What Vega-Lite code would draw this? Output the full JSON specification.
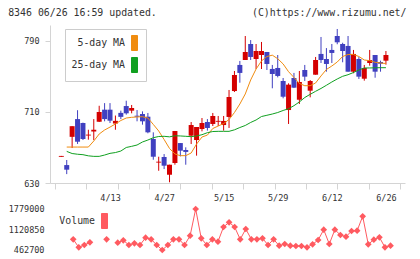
{
  "$schema": "https://vega.github.io/schema/vega-lite/v6.json",
  "background": "white",
  "padding": {"left": 8, "top": 8, "right": 2, "bottom": 0},
  "title": {
    "text": "8346 06/26 16:59 updated.\u00a0\u00a0\u00a0\u00a0\u00a0\u00a0\u00a0\u00a0\u00a0\u00a0\u00a0\u00a0\u00a0\u00a0\u00a0\u00a0(C)https://www.rizumu.net/",
    "anchor": "start",
    "font": "DejaVu Sans Mono",
    "fontSize": 9.9,
    "fontWeight": "normal",
    "color": "#333333",
    "offset": 7
  },
  "config": {
    "view": {"stroke": null},
    "axis": {"labelFont": "DejaVu Sans Mono", "labelFontSize": 8.5, "labelColor": "#333333", "grid": false, "labelFlush": false},
    "legend": {"labelFont": "DejaVu Sans Mono"}
  },
  "resolve": {"scale": {"color": "independent"}, "legend": {"color": "independent"}},
  "spacing": 2,
  "datasets": {
    "stock": [
      {"i":0,"open":659.5,"high":660.5,"low":659.5,"close":660.5,"ma5":null,"ma25":null,"vol":null},
      {"i":1,"open":650.2,"high":655.9,"low":640,"close":645,"ma5":670.5,"ma25":665.6,"vol":null},
      {"i":2,"open":682,"high":694,"low":669.4,"close":694,"ma5":670.5,"ma25":663.2,"vol":null},
      {"i":3,"open":702,"high":712,"low":674,"close":676.5,"ma5":670.5,"ma25":662.4,"vol":789300},
      {"i":4,"open":697.6,"high":698,"low":678.4,"close":679.6,"ma5":670.5,"ma25":661.9,"vol":528000},
      {"i":5,"open":683.5,"high":690,"low":678.8,"close":684.5,"ma5":670.5,"ma25":660.6,"vol":603100},
      {"i":6,"open":688,"high":702,"low":678.4,"close":690,"ma5":677.3,"ma25":660,"vol":691300},
      {"i":7,"open":699,"high":717,"low":698.7,"close":710,"ma5":685.2,"ma25":660,"vol":null},
      {"i":8,"open":712.6,"high":720,"low":699.5,"close":702,"ma5":689.7,"ma25":661.5,"vol":null},
      {"i":9,"open":712.6,"high":720,"low":697.6,"close":700.2,"ma5":693,"ma25":663.4,"vol":789300},
      {"i":10,"open":697,"high":706,"low":690,"close":700,"ma5":696.5,"ma25":664.3,"vol":null},
      {"i":11,"open":709,"high":711.5,"low":702,"close":704.5,"ma5":700.4,"ma25":666,"vol":678300},
      {"i":12,"open":716.7,"high":722.7,"low":707,"close":708.5,"ma5":703.2,"ma25":670,"vol":756600},
      {"i":13,"open":711.5,"high":717.9,"low":708.5,"close":714.5,"ma5":704,"ma25":671.3,"vol":603100},
      {"i":14,"open":705.8,"high":712.2,"low":699.5,"close":704.7,"ma5":704.4,"ma25":672.8,"vol":658700},
      {"i":15,"open":707.7,"high":710.7,"low":695.7,"close":699.5,"ma5":704.7,"ma25":676.2,"vol":603100},
      {"i":16,"open":704.7,"high":708.9,"low":686,"close":687.1,"ma5":703.2,"ma25":678.4,"vol":841600},
      {"i":17,"open":679.6,"high":687.1,"low":656.2,"close":659.6,"ma5":696,"ma25":681,"vol":789300},
      {"i":18,"open":653,"high":659.6,"low":643.8,"close":654,"ma5":688.6,"ma25":682.4,"vol":603100},
      {"i":19,"open":659.3,"high":662.6,"low":645.7,"close":649.5,"ma5":679,"ma25":682.6,"vol":440000},
      {"i":20,"open":639.3,"high":650.6,"low":630.8,"close":650.6,"ma5":668.9,"ma25":682,"vol":603100},
      {"i":21,"open":652.5,"high":688.6,"low":650.6,"close":688.6,"ma5":662.7,"ma25":683.2,"vol":789300},
      {"i":22,"open":675,"high":675,"low":660,"close":666.4,"ma5":660.8,"ma25":683,"vol":789300},
      {"i":23,"open":667.2,"high":670.2,"low":650.6,"close":665,"ma5":660.8,"ma25":682.6,"vol":603100},
      {"i":24,"open":683.3,"high":698.7,"low":673.9,"close":695.3,"ma5":663.8,"ma25":682.2,"vol":906900},
      {"i":25,"open":678.4,"high":693.1,"low":660.8,"close":693.1,"ma5":673.9,"ma25":683,"vol":1779000},
      {"i":26,"open":690.8,"high":703.2,"low":688.2,"close":697.6,"ma5":681.8,"ma25":684.4,"vol":822000},
      {"i":27,"open":698.7,"high":702,"low":689,"close":692,"ma5":684,"ma25":686.7,"vol":603100},
      {"i":28,"open":696.5,"high":708.9,"low":694.2,"close":705.5,"ma5":691.4,"ma25":688,"vol":789300},
      {"i":29,"open":699,"high":705.5,"low":694.2,"close":700,"ma5":694.2,"ma25":688.2,"vol":710900},
      {"i":30,"open":695.3,"high":705.5,"low":689,"close":699.9,"ma5":697,"ma25":688.2,"vol":1191000},
      {"i":31,"open":704.4,"high":734.8,"low":692,"close":726.9,"ma5":701.5,"ma25":688.2,"vol":1344500},
      {"i":32,"open":733.6,"high":756.2,"low":732.5,"close":751.7,"ma5":709.4,"ma25":689.9,"vol":1191000},
      {"i":33,"open":763,"high":767.5,"low":743,"close":754,"ma5":719,"ma25":692.5,"vol":789300},
      {"i":34,"open":768.6,"high":795.6,"low":768.6,"close":777.6,"ma5":730.3,"ma25":694.8,"vol":1125700},
      {"i":35,"open":786.6,"high":791,"low":768.6,"close":772,"ma5":746.1,"ma25":698.2,"vol":789300},
      {"i":36,"open":769.7,"high":786.6,"low":758.4,"close":778.7,"ma5":758.4,"ma25":701,"vol":789300},
      {"i":37,"open":774.2,"high":788.9,"low":758.4,"close":778.7,"ma5":767.5,"ma25":704.9,"vol":822000},
      {"i":38,"open":777.6,"high":777.6,"low":757.3,"close":764.1,"ma5":772.5,"ma25":706.3,"vol":603100},
      {"i":39,"open":758.5,"high":763,"low":736.7,"close":752.8,"ma5":774,"ma25":707.7,"vol":789300},
      {"i":40,"open":759.6,"high":774.2,"low":749,"close":750.6,"ma5":770,"ma25":709.4,"vol":580000},
      {"i":41,"open":744.9,"high":748.3,"low":725.4,"close":727.2,"ma5":764.1,"ma25":711.7,"vol":636000},
      {"i":42,"open":712.2,"high":742.3,"low":696.5,"close":740.8,"ma5":755.4,"ma25":713.7,"vol":580000},
      {"i":43,"open":748.3,"high":754,"low":737,"close":737.4,"ma5":748.9,"ma25":717.1,"vol":570500},
      {"i":44,"open":723.8,"high":756.2,"low":719,"close":743.8,"ma5":742.1,"ma25":721.3,"vol":570500},
      {"i":45,"open":757.3,"high":763,"low":745,"close":749.8,"ma5":739.6,"ma25":726.3,"vol":528000},
      {"i":46,"open":734,"high":746,"low":726.5,"close":744.9,"ma5":739.6,"ma25":729.9,"vol":626000},
      {"i":47,"open":752,"high":772,"low":752,"close":768.6,"ma5":742.7,"ma25":733.3,"vol":766400},
      {"i":48,"open":775.4,"high":794.5,"low":765.2,"close":768.6,"ma5":750.6,"ma25":736.5,"vol":1102800},
      {"i":49,"open":769.7,"high":782,"low":755.4,"close":764.1,"ma5":757.9,"ma25":740.1,"vol":635800},
      {"i":50,"open":779.9,"high":786.6,"low":765.2,"close":776.5,"ma5":761.8,"ma25":743.8,"vol":1102800},
      {"i":51,"open":795.6,"high":803.5,"low":786.3,"close":788.5,"ma5":766.3,"ma25":747.2,"vol":929700},
      {"i":52,"open":786.6,"high":788,"low":766,"close":778.7,"ma5":772.5,"ma25":750.2,"vol":874200},
      {"i":53,"open":784.4,"high":795.6,"low":755.4,"close":755.4,"ma5":774.8,"ma25":752,"vol":1060400},
      {"i":54,"open":755.4,"high":779.9,"low":753.6,"close":775.4,"ma5":774.8,"ma25":754.5,"vol":1070200},
      {"i":55,"open":769.7,"high":772,"low":747.2,"close":749.8,"ma5":772.5,"ma25":757.3,"vol":1540500},
      {"i":56,"open":747.5,"high":763,"low":745.3,"close":759.6,"ma5":768.6,"ma25":759.6,"vol":626000},
      {"i":57,"open":765.2,"high":779.9,"low":762.2,"close":768.6,"ma5":767.8,"ma25":759.6,"vol":776200},
      {"i":58,"open":774.2,"high":774.2,"low":748.6,"close":755.4,"ma5":766,"ma25":759.8,"vol":854600},
      {"i":59,"open":766.3,"high":767.8,"low":755.4,"close":764.4,"ma5":765.2,"ma25":759.9,"vol":528000},
      {"i":60,"open":767.8,"high":778.7,"low":763.3,"close":774.2,"ma5":764.6,"ma25":759.9,"vol":580000}
    ]
  },
  "vconcat": [
    {
      "width": 355,
      "height": 158,
      "data": {"name": "stock"},
      "resolve": {"axis": {"x": "independent"}},
      "layer": [
        {
          "mark": {"type": "rule", "strokeWidth": 1},
          "encoding": {
            "x": {"field": "i", "type": "quantitative",
              "scale": {"domain": [-1.1676, 62.6], "nice": false, "zero": false},
              "axis": {"orient": "bottom", "values": [-1.16, 4.6294, 10.4265, 16.2235, 22.0206, 27.8176, 33.6147, 39.4118, 45.2088, 51.0059, 56.8029, 62.59],
                "labels": false, "ticks": true, "tickSize": 6, "tickColor": "#d4d4d4", "domain": true, "domainColor": "#d4d4d4", "title": null}},
            "y": {"field": "low", "type": "quantitative",
              "scale": {"domain": [630, 808], "nice": false, "zero": false},
              "axis": {"values": [630, 710, 790], "format": "d", "tickSize": 5, "tickColor": "#d4d4d4", "domainColor": "#d4d4d4", "labelPadding": 6, "title": null}},
            "y2": {"field": "high"},
            "color": {"condition": {"test": "datum.close > datum.open", "value": "#d40000"}, "value": "#4040c0"}
          }
        },
        {
          "mark": {"type": "bar", "width": 5, "orient": "vertical"},
          "encoding": {
            "x": {"field": "i", "type": "quantitative",
              "axis": {"orient": "bottom", "values": [9, 19, 30, 40, 50, 60],
                "labelExpr": "datum.value == 9 ? '4/13' : datum.value == 19 ? '4/27' : datum.value == 30 ? '5/15' : datum.value == 40 ? '5/29' : datum.value == 50 ? '6/12' : '6/26'",
                "ticks": false, "domain": false, "labelPadding": 10, "title": null}},
            "y": {"field": "open", "type": "quantitative",
              "axis": {"values": [630, 710, 790], "format": "d", "tickSize": 5, "tickColor": "#d4d4d4", "domainColor": "#d4d4d4", "labelPadding": 6, "title": null}},
            "y2": {"field": "close"},
            "color": {"condition": {"test": "datum.close > datum.open", "value": "#d40000"}, "value": "#4040c0"}
          }
        },
        {
          "transform": [{"fold": ["ma5", "ma25"], "as": ["ma", "val"]}],
          "mark": {"type": "line", "strokeWidth": 1},
          "encoding": {
            "x": {"field": "i", "type": "quantitative", "axis": null},
            "y": {"field": "val", "type": "quantitative",
              "axis": {"values": [630, 710, 790], "format": "d", "tickSize": 5, "tickColor": "#d4d4d4", "domainColor": "#d4d4d4", "labelPadding": 6, "title": null}},
            "color": {"field": "ma", "type": "nominal",
              "scale": {"domain": ["ma5", "ma25"], "range": ["#f08c10", "#10a020"]},
              "legend": {
                "orient": "none", "legendX": 15, "legendY": 4, "title": null,
                "labelExpr": "datum.value == 'ma5' ? '5-day MA' : '25-day MA'",
                "labelFont": "DejaVu Sans Mono", "labelFontSize": 9.9, "labelColor": "#333333",
                "labelAlign": "right", "labelOffset": -17.5,
                "symbolType": "M-0.4,-1H0.4V1H-0.4Z", "symbolSize": 225, "symbolOffset": 55.5,
                "padding": 6, "rowPadding": 2,
                "strokeColor": "#cccccc", "fillColor": "white",
                "encode": {"symbols": {"update": {
                  "fill": {"signal": "datum.value == 'ma5' ? '#f08c10' : '#10a020'"},
                  "stroke": {"value": "#333333"}, "strokeWidth": {"value": 1},
                  "fillOpacity": {"value": 1}, "opacity": {"value": 1}}}}
              }}
          }
        }
      ]
    },
    {
      "width": 355,
      "height": 50,
      "data": {"name": "stock"},
      "layer": [
        {
          "mark": {"type": "line", "strokeWidth": 1, "invalid": "break-paths-filter-domains"},
          "encoding": {
            "x": {"field": "i", "type": "quantitative", "scale": {"domain": [-1.1676, 62.6], "nice": false, "zero": false}, "axis": null},
            "y": {"field": "vol", "type": "quantitative",
              "scale": {"domain": [276538, 1909640], "nice": false, "zero": false},
              "axis": {"values": [462700, 1120850, 1779000], "format": "d", "ticks": false, "domain": false, "labelPadding": 6, "title": null}},
            "color": {"datum": "Volume", "type": "nominal", "scale": {"range": ["#ff5a60"]},
              "legend": {
                "orient": "none", "legendX": -9, "legendY": 8, "title": null,
                "labelFont": "DejaVu Sans Mono", "labelFontSize": 9.9, "labelColor": "#333333",
                "labelAlign": "right", "labelOffset": -17.5,
                "symbolType": "M-0.4,-1H0.4V1H-0.4Z", "symbolSize": 225, "symbolOffset": 55.5,
                "padding": 0,
                "encode": {"symbols": {"update": {
                  "fill": {"value": "#ff5a60"},
                  "stroke": {"value": "#333333"}, "strokeWidth": {"value": 1},
                  "fillOpacity": {"value": 1}, "opacity": {"value": 1}}}}
              }}
          }
        },
        {
          "mark": {"type": "point", "shape": "diamond", "filled": true, "size": 45, "opacity": 1, "color": "#ff5a60"},
          "encoding": {
            "x": {"field": "i", "type": "quantitative", "axis": null},
            "y": {"field": "vol", "type": "quantitative",
              "axis": {"values": [462700, 1120850, 1779000], "format": "d", "ticks": false, "domain": false, "labelPadding": 6, "title": null}}
          }
        }
      ]
    }
  ]
}
